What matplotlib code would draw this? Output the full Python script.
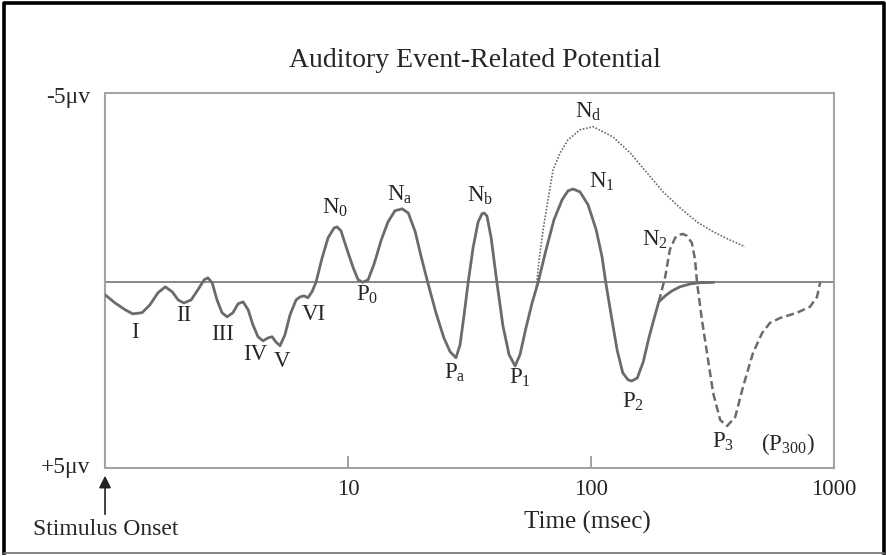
import matplotlib.pyplot as plt
from matplotlib.ticker import NullLocator

plt.rcParams['font.family'] = 'Liberation Serif'
plt.rcParams['mathtext.fontset'] = 'custom'
plt.rcParams['mathtext.rm'] = 'Liberation Serif'
plt.rcParams['mathtext.it'] = 'Liberation Serif:italic'

# Main ERP trace: latency in ms, amplitude in uV (negative plotted upward)
erp_ms = [1.00, 1.10, 1.21, 1.30, 1.42, 1.53, 1.65, 1.77, 1.89, 2.00,
          2.11, 2.26, 2.41, 2.56, 2.65, 2.76, 2.89, 3.03, 3.18, 3.36,
          3.53, 3.70, 3.88, 4.06, 4.26, 4.47, 4.69, 4.87, 5.05, 5.25,
          5.50, 5.77, 6.11, 6.34, 6.59, 6.84, 7.11, 7.38, 7.82, 8.28,
          8.76, 9.01, 9.36, 9.91, 10.5, 11.0, 11.5, 12.1, 12.8, 13.7,
          14.6, 15.6, 16.7, 17.7, 18.9, 20.0, 21.3, 23.0, 24.8, 26.3,
          27.8, 28.9, 30.0, 31.2, 32.7, 34.3, 35.6, 36.3, 37.3, 38.8,
          41.0, 43.4, 46.0, 48.7, 51.0, 54.0, 57.2, 60.5, 65.3, 70.4,
          76.0, 80.4, 84.3, 90.1, 97.2, 105, 111, 115, 121, 128,
          135, 142, 147, 155, 164, 173, 182, 190, 202, 215,
          232, 256, 281, 318]
erp_uv = [0.33, 0.55, 0.73, 0.84, 0.81, 0.60, 0.28, 0.12, 0.25, 0.47,
          0.55, 0.47, 0.20, -0.07, -0.12, 0.01, 0.47, 0.81, 0.92, 0.81,
          0.57, 0.52, 0.73, 1.13, 1.45, 1.56, 1.48, 1.45, 1.59, 1.69,
          1.40, 0.87, 0.47, 0.39, 0.36, 0.41, 0.25, 0.00, -0.65, -1.19,
          -1.45, -1.48, -1.37, -0.87, -0.39, -0.07, 0.00, -0.07, -0.49, -1.13,
          -1.61, -1.91, -1.96, -1.85, -1.35, -0.68, 0.01, 0.81, 1.48, 1.85,
          2.01, 1.67, 0.89, 0.01, -0.92, -1.61, -1.83, -1.85, -1.77, -1.19,
          0.01, 1.16, 1.93, 2.23, 1.93, 1.21, 0.55, 0.01, -0.87, -1.67,
          -2.20, -2.44, -2.49, -2.41, -2.07, -1.40, -0.68, 0.01, 0.87, 1.80,
          2.41, 2.60, 2.63, 2.55, 2.12, 1.48, 0.95, 0.52, 0.36, 0.23,
          0.12, 0.04, 0.01, 0.00]

# N2 / P3 (P300) branch, dashed
p3_ms = [190, 202, 211, 222, 230, 239, 248, 260, 268, 273, 286, 300, 318,
         340, 363, 392, 422, 464, 506, 545, 600, 704, 797, 851, 876]
p3_uv = [0.52, -0.15, -0.87, -1.19, -1.27, -1.29, -1.24, -1.05, -0.60, 0.01,
         1.00, 1.88, 2.95, 3.67, 3.83, 3.59, 2.79, 1.88, 1.35, 1.08, 0.95,
         0.81, 0.65, 0.39, 0.01]

# Nd (attention) branch, dotted
nd_ms = [59.4, 61.1, 63.5, 66.5, 69.8, 74.6, 80.4, 90.1, 102, 123, 145,
         170, 198, 232, 273, 318, 373, 430]
nd_uv = [0.20, -0.60, -1.40, -2.20, -3.00, -3.45, -3.80, -4.07, -4.15, -3.88,
         -3.45, -2.92, -2.41, -1.99, -1.61, -1.35, -1.13, -0.95]

# Component names and where they sit
comp_names = ['I', 'II', 'III', 'IV', 'V', 'VI',
              r'$\mathrm{N_0}$', r'$\mathrm{P_0}$', r'$\mathrm{N_a}$',
              r'$\mathrm{P_a}$', r'$\mathrm{N_b}$', r'$\mathrm{P_1}$',
              r'$\mathrm{N_1}$', r'$\mathrm{N_d}$', r'$\mathrm{N_2}$',
              r'$\mathrm{P_2}$', r'$\mathrm{P_3}$', r'$\mathrm{(P_{300})}$']
comp_ms = [1.33, 2.11, 3.06, 4.14, 5.35, 7.25, 8.84, 12.0, 16.4, 27.6,
           34.9, 51.0, 111, 97.2, 183, 149, 349, 647]
comp_uv = [1.35, 0.89, 1.40, 1.93, 2.12, 0.87, -1.99, 0.33, -2.33, 2.41,
           -2.31, 2.55, -2.68, -4.55, -1.13, 3.19, 4.25, 4.31]

x_ticks = [10, 100, 1000]
x_ticklabels = ['10', '100', '1000']

trace_col = '#6b6b6b'
text_col = '#262626'
axis_col = '#a3a3a3'

fig = plt.figure(figsize=(8.87, 5.56), dpi=100)
ax = fig.add_axes([0.1184, 0.1583, 0.8219, 0.6745])

ax.set_xscale('log')
ax.set_xlim(1, 1000)
ax.set_ylim(4.95, -5.05)

ax.axhline(0, color='#7d7d7d', lw=1.3, zorder=1)
ax.plot(erp_ms, erp_uv, color=trace_col, lw=2.0, zorder=3,
        solid_joinstyle='round')
ax.plot(p3_ms, p3_uv, color=trace_col, lw=1.8, ls=(0, (3.2, 1.6)), zorder=2)
ax.plot(nd_ms, nd_uv, color=trace_col, lw=1.2, ls=(0, (1, 1)), zorder=2)

for name, t, v in zip(comp_names, comp_ms, comp_uv):
    ax.text(t, v, name, ha='center', va='center', fontsize=16.5,
            color=text_col, clip_on=False)

for s in ax.spines.values():
    s.set_color(axis_col)
    s.set_linewidth(1.5)
ax.set_yticks([])
ax.set_xticks(x_ticks)
ax.set_xticklabels(x_ticklabels)
ax.xaxis.set_minor_locator(NullLocator())
ax.tick_params(axis='x', direction='in', length=8.5, width=1.4,
               color=axis_col, pad=8, labelsize=16.5, labelcolor=text_col)

fig.text(0.5355, 0.892, 'Auditory Event-Related Potential', fontsize=20,
         ha='center', va='center', color=text_col)
fig.text(0.1015, 0.8255, '-5μv', fontsize=17, ha='right', va='center',
         color=text_col)
fig.text(0.1015, 0.160, '+5μv', fontsize=17, ha='right', va='center',
         color=text_col)
fig.text(0.6618, 0.0612, 'Time (msec)', fontsize=18, ha='center',
         va='center', color=text_col)
fig.text(0.0372, 0.0468, 'Stimulus Onset', fontsize=17, ha='left',
         va='center', color=text_col)

# stimulus onset arrow under t = 1 ms
ax.annotate('', xy=(1, 0.1493), xytext=(1, 0.0701),
            xycoords=('data', 'figure fraction'),
            textcoords=('data', 'figure fraction'),
            arrowprops=dict(arrowstyle='-|>', color='#222222', lw=1.2,
                            mutation_scale=18),
            annotation_clip=False)

# page frame
frame_kw = dict(transform=fig.transFigure, color='black', lw=2.6,
                solid_capstyle='projecting')
fig.add_artist(plt.Line2D([0.0045, 0.0045, 0.9965, 0.9965],
                          [0.0055, 0.995, 0.995, 0.0055], **frame_kw))
fig.add_artist(plt.Line2D([0.0045, 0.9965], [0.0055, 0.0055],
                          transform=fig.transFigure, color='#707070', lw=1.2))

fig.savefig('out.png', dpi=100)
